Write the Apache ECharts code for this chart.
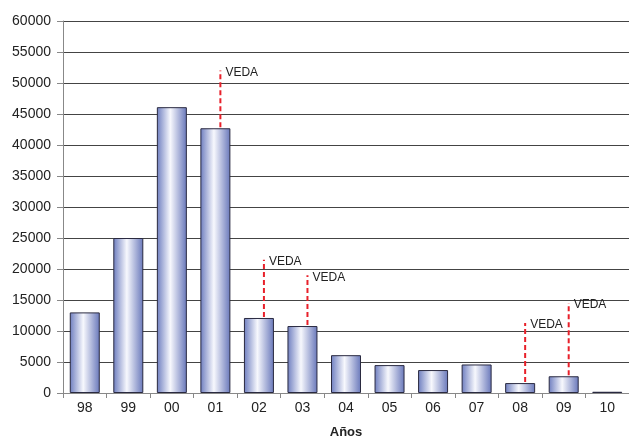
<!DOCTYPE html>
<html>
<head>
<meta charset="utf-8">
<script src="https://cdn.jsdelivr.net/npm/echarts@6/dist/echarts.min.js"></script>
<style>
  html, body { margin: 0; padding: 0; background: #fff; }
  #chart { width: 629px; height: 437px; }
</style>
</head>
<body>
<div id="chart"></div>
<script>
// Years (two-digit labels)
const years = ['98', '99', '00', '01', '02', '03', '04', '05', '06', '07', '08', '09', '10'];
// Yearly totals
const totals = [13000, 25000, 46100, 42700, 12100, 10800, 6100, 4500, 3700, 4600, 1600, 2700, 200];
// Closed-season ("VEDA") markers: year index and how high the dashed line reaches
const vedaYears = [3, 4, 5, 10, 11];
const vedaReach = [52000, 21500, 19000, 11300, 14500];
const vedaText = 'VEDA';
const yTicks = { min: 0, max: 60000, interval: 5000 };

const chart = echarts.init(document.getElementById('chart'), null, { renderer: 'canvas' });

const barGradient = new echarts.graphic.LinearGradient(0, 0, 1, 0, [
  { offset: 0, color: '#6d7dbf' },
  { offset: 0.45, color: '#f7f8fd' },
  { offset: 1, color: '#6877ba' }
]);

const vedaData = vedaYears.map((c, i) => [c, totals[c], vedaReach[i]]);
const font = 'Liberation Sans, Arial';

chart.setOption({
  animation: false,
  grid: { left: 63, right: 0, top: 21, bottom: 44, outerBoundsMode: 'none', containLabel: false },
  xAxis: {
    type: 'category',
    data: years,
    name: 'Años',
    nameLocation: 'middle',
    nameGap: 33,
    nameTextStyle: { fontFamily: font, fontSize: 13, fontWeight: 'bold', color: '#222' },
    axisLine: { lineStyle: { color: '#888', width: 1 } },
    axisTick: { show: true, alignWithLabel: false, length: 5, lineStyle: { color: '#888' } },
    axisLabel: { fontFamily: font, fontSize: 14, color: '#222', margin: 8 }
  },
  yAxis: {
    type: 'value',
    min: yTicks.min,
    max: yTicks.max,
    interval: yTicks.interval,
    axisLine: { show: true, lineStyle: { color: '#888', width: 1 } },
    axisTick: { show: true, length: 6, lineStyle: { color: '#888' } },
    axisLabel: { fontFamily: font, fontSize: 14, color: '#222', margin: 12, formatter: v => String(v) },
    splitLine: { lineStyle: { color: '#444', width: 1 } }
  },
  series: [
    {
      type: 'bar',
      data: totals,
      barWidth: 30,
      itemStyle: { color: barGradient, borderColor: '#2a2a40', borderWidth: 1 },
      z: 2
    },
    {
      type: 'custom',
      data: vedaData,
      z: 3,
      renderItem: function (params, api) {
        const x = api.value(0);
        const base = api.coord([x, api.value(1)]);
        const top = api.coord([x, api.value(2)]);
        const px = base[0] + 5;
        return {
          type: 'group',
          children: [
            {
              type: 'line',
              shape: { x1: px, y1: base[1] - 1, x2: px, y2: top[1] },
              style: { stroke: '#e8202a', lineWidth: 2, lineDash: [5, 3] }
            },
            {
              type: 'text',
              style: {
                x: px + 5, y: top[1] - 4, text: vedaText,
                fill: '#222', font: '12px "Liberation Sans", Arial',
                verticalAlign: 'top', align: 'left'
              }
            }
          ]
        };
      }
    }
  ]
});
</script>
</body>
</html>
